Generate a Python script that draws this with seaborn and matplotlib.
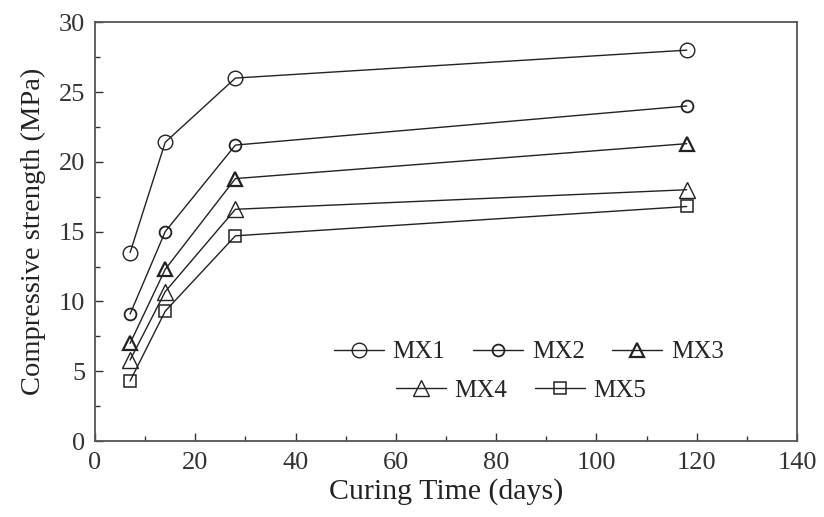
import matplotlib
matplotlib.use("Agg")
import matplotlib.pyplot as plt
import seaborn as sns
import pandas as pd
from matplotlib.ticker import MultipleLocator
from matplotlib.lines import Line2D

days = [7, 14, 28, 118]
series_names = ["MX1", "MX2", "MX3", "MX4", "MX5"]
mx1 = [13.5, 21.4, 26.0, 28.0]
mx2 = [9.1, 15.0, 21.2, 24.0]
mx3 = [7.0, 12.3, 18.8, 21.3]
mx4 = [5.8, 10.7, 16.6, 18.0]
mx5 = [4.3, 9.3, 14.7, 16.8]
values = [mx1, mx2, mx3, mx4, mx5]

sns.set_style("ticks")
plt.rcParams['font.family'] = ['Liberation Serif', 'DejaVu Serif']
plt.rcParams['mathtext.fontset'] = 'stix'

rows = []
for name, vals in zip(series_names, values):
    for d, v in zip(days, vals):
        rows.append({"Series": name, "Day": d, "Strength": v})
df = pd.DataFrame(rows)

styles = {
    "MX1": dict(marker="o", ms=10.5, mew=1.0),
    "MX2": dict(marker="o", ms=8.5, mew=1.3),
    "MX3": dict(marker="^", ms=10.5, mew=1.6),
    "MX4": dict(marker="^", ms=11.5, mew=1.0),
    "MX5": dict(marker="s", ms=8.5, mew=1.1),
}

fig = plt.figure(figsize=(8.24, 5.17), dpi=100)
ax = fig.add_axes([0.1153, 0.147, 0.852, 0.810])

col = "#222222"
for name in series_names:
    st = styles[name]
    sub = df[df["Series"] == name]
    sns.lineplot(data=sub, x="Day", y="Strength", ax=ax, color=col, lw=1.0,
                 marker=st["marker"], markersize=st["ms"], markeredgewidth=st["mew"],
                 markerfacecolor="none", markeredgecolor=col, legend=False)

ax.set_xlim(0, 140)
ax.set_ylim(0, 30)
ax.xaxis.set_major_locator(MultipleLocator(20))
ax.xaxis.set_minor_locator(MultipleLocator(10))
ax.yaxis.set_major_locator(MultipleLocator(5))
ax.yaxis.set_minor_locator(MultipleLocator(2.5))
ax.tick_params(which="both", direction="in", top=False, right=False, labelsize=19, colors="#333333")
ax.tick_params(which="major", length=6, width=1)
ax.tick_params(which="minor", length=3.5, width=1)
ax.tick_params(axis="y", pad=7)
ax.tick_params(axis="x", pad=8)
for s in ax.spines.values():
    s.set_linewidth(1.3)
    s.set_color("#555555")
ax.set_xlabel("Curing Time (days)", fontsize=21.5, color="#222222", labelpad=3)
ax.set_ylabel("Compressive strength (MPa)", fontsize=20.5, color="#222222", labelpad=9)

def handle(name):
    st = styles[name]
    return Line2D([], [], color=col, lw=1.0, marker=st["marker"], markersize=st["ms"],
                  markeredgewidth=st["mew"], markerfacecolor="none", markeredgecolor=col)

leg1 = ax.legend([handle(n) for n in series_names[:3]], series_names[:3], ncol=3,
                 loc="center", bbox_to_anchor=(0.618, 0.212), frameon=False, fontsize=18,
                 handlelength=2.0, columnspacing=1.1, handletextpad=0.35)
ax.add_artist(leg1)
ax.legend([handle(n) for n in series_names[3:]], series_names[3:], ncol=2,
          loc="center", bbox_to_anchor=(0.607, 0.12), frameon=False, fontsize=18,
          handlelength=2.0, columnspacing=1.1, handletextpad=0.35)

fig.savefig("out.png", dpi=100)
